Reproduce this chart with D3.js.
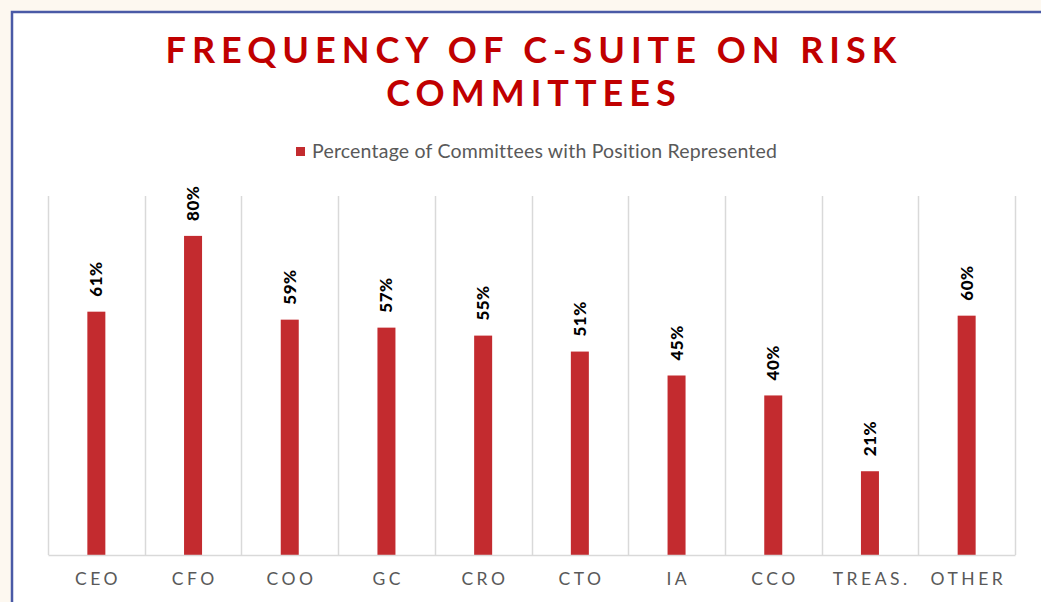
<!DOCTYPE html>
<html>
<head>
<meta charset="utf-8">
<script src="https://cdn.jsdelivr.net/npm/d3@7"></script>
<style>
  html, body { margin: 0; padding: 0; background: #fdf8f0; }
  svg { display: block; }
</style>
</head>
<body>
<div id="chart"></div>
<script>
const categories = ["CEO", "CFO", "COO", "GC", "CRO", "CTO", "IA", "CCO", "TREAS.", "OTHER"];
const values = [61, 80, 59, 57, 55, 51, 45, 40, 21, 60];
const titleLines = ["FREQUENCY OF C-SUITE ON RISK", "COMMITTEES"];
const seriesName = "Percentage of Committees with Position Represented";

const width = 1041, height = 602;
const margin = { top: 196, right: 26, bottom: 47, left: 48 };
const font = "Lato, 'Open Sans', sans-serif";

const svg = d3.select("#chart").append("svg")
  .attr("width", width)
  .attr("height", height);

// slide panel with border
svg.append("rect")
  .attr("x", 12).attr("y", 12)
  .attr("width", width).attr("height", height)
  .attr("fill", "#fff");
svg.append("path")
  .attr("d", `M12,${height} V12 H${width}`)
  .attr("fill", "none")
  .attr("stroke", "#4a5aa6")
  .attr("stroke-width", 2.5);

// title
svg.append("g")
  .selectAll("text")
  .data(titleLines)
  .join("text")
  .attr("x", 534)
  .attr("y", (d, i) => 63 + i * 43)
  .attr("text-anchor", "middle")
  .attr("font-family", font)
  .attr("font-weight", 700)
  .attr("font-size", 36)
  .attr("letter-spacing", 6)
  .attr("fill", "#c00000")
  .text(d => d);

// legend
const legend = svg.append("g").attr("transform", "translate(296,147)");
legend.append("rect").attr("width", 9).attr("height", 9).attr("fill", "#c32b2f");
legend.append("text")
  .attr("x", 16).attr("y", 11)
  .attr("font-family", font)
  .attr("font-size", 19.5)
  .attr("letter-spacing", 0.2)
  .attr("fill", "#595959")
  .text(seriesName);

const innerW = width - margin.left - margin.right;
const innerH = height - margin.top - margin.bottom;

const x = d3.scaleBand().domain(categories).range([0, innerW]);
const y = d3.scaleLinear().domain([0, 90]).range([innerH, 0]);

const g = svg.append("g").attr("transform", `translate(${margin.left},${margin.top})`);

// vertical category separators
g.append("g")
  .selectAll("line")
  .data(categories.concat(["__end"]))
  .join("line")
  .attr("x1", (d, i) => Math.round(i * x.step()) + 0.5)
  .attr("x2", (d, i) => Math.round(i * x.step()) + 0.5)
  .attr("y1", 0)
  .attr("y2", innerH)
  .attr("stroke", "#d9d9d9")
  .attr("stroke-width", 1.5);

// bars
const barW = 18;
g.append("g")
  .selectAll("rect")
  .data(values)
  .join("rect")
  .attr("x", (d, i) => x(categories[i]) + x.bandwidth() / 2 - barW / 2)
  .attr("y", d => y(d))
  .attr("width", barW)
  .attr("height", d => innerH - y(d))
  .attr("fill", "#c32b2f");

// value labels, rotated
g.append("g")
  .selectAll("text")
  .data(values)
  .join("text")
  .attr("transform", (d, i) =>
    `translate(${x(categories[i]) + x.bandwidth() / 2 + 6},${y(d) - 15}) rotate(-90)`)
  .attr("font-family", font)
  .attr("font-weight", 900)
  .attr("font-size", 17)
  .attr("letter-spacing", 0.5)
  .attr("fill", "#000")
  .text(d => d + "%");

// x axis
const xAxis = g.append("g")
  .attr("transform", `translate(0,${innerH})`)
  .call(d3.axisBottom(x).tickSize(0).tickPadding(18));
xAxis.select(".domain").attr("stroke", "#d9d9d9").attr("stroke-width", 1.5);
xAxis.selectAll("text")
  .attr("font-family", font)
  .attr("font-size", 17.5)
  .attr("letter-spacing", 3.5)
  .attr("dx", 1.75)
  .attr("fill", "#595959");
</script>
</body>
</html>
